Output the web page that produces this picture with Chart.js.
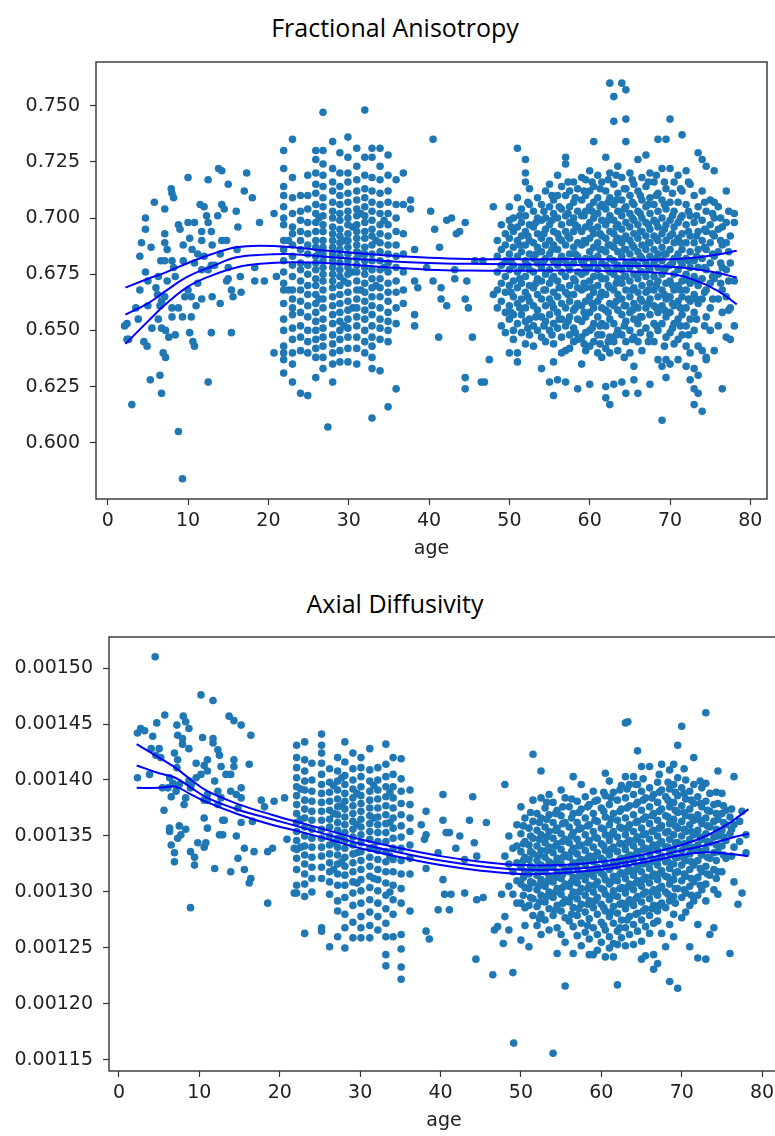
<!DOCTYPE html>
<html>
<head>
<meta charset="utf-8">
<script src="https://cdn.jsdelivr.net/npm/chart.js@4.4.1/dist/chart.umd.min.js"></script>
<style>
  html, body { margin: 0; padding: 0; background: #fff; overflow: hidden; }
  #page { position: relative; width: 775px; height: 1136px; overflow: hidden; }
  canvas { position: absolute; left: 0; }
  .titulo { position: absolute; left: 0; width: 790px; text-align: center;
            font-family: 'Open Sans', 'Noto Sans', sans-serif; font-size: 25px; color: #000;
            height: 30px; line-height: 30px; }
</style>
</head>
<body>
<div id="page">
  <div class="titulo" style="top:12px">Fractional Anisotropy</div>
  <canvas id="grafico-fa" width="790" height="580" style="top:0;width:790px;height:580px"></canvas>
  <div class="titulo" style="top:588px">Axial Diffusivity</div>
  <canvas id="grafico-ad" width="790" height="556" style="top:580px;width:790px;height:556px"></canvas>
</div>
<script>
// Cada columna: [edad, valores...]. FA en milésimas (x1000), AD en x1e-6.
const faChildren = [
  [2.1, 652], [2.4, 653, 646], [2.6, 646], [3.0, 617], [3.5, 660], [3.8, 655], [4.0, 683, 668], [4.2, 689],
  [4.5, 645], [4.7, 700, 695, 676], [4.9, 643], [5.0, 672, 661], [5.3, 628], [5.4, 687], [5.5, 651], [5.8, 707],
  [6.0, 669], [6.2, 666], [6.3, 674, 655], [6.5, 630, 661], [6.6, 681], [6.7, 663, 651, 622], [6.9, 640],
  [7.1, 704, 693, 689, 681, 665], [7.2, 638, 650], [7.4, 686, 672], [7.6, 647], [7.9, 713], [8.0, 711, 681, 660, 656],
  [8.2, 709, 678], [8.4, 674, 648], [8.8, 697, 660, 605], [9.0, 695], [9.3, 584, 656], [9.4, 681, 688], [9.6, 665],
  [10.0, 718, 698, 668], [10.2, 691, 649], [10.4, 656, 665], [10.5, 686], [10.6, 645], [10.8, 698, 680, 643],
  [11.0, 661], [11.2, 684, 671], [11.5, 706], [11.7, 690, 677, 664, 694], [12.0, 705, 683], [12.3, 701],
  [12.5, 717, 698, 627, 677], [12.9, 694, 649, 679], [13.0, 688, 665], [13.3, 679], [13.7, 701], [13.8, 722],
  [14.0, 662, 684], [14.2, 721, 706, 690], [14.5, 704], [14.8, 690, 672], [15.0, 715, 678, 673], [15.4, 649, 668],
  [15.6, 665], [16.0, 703], [16.1, 686], [16.2, 696], [16.5, 674], [16.6, 667], [17.0, 712], [17.3, 720],
  [18.0, 709], [18.3, 678, 672], [18.9, 698], [19.5, 672], [20.7, 702, 640], [21.0, 674]
];
const faYoung = [
  [21.9, 730, 722, 714, 710, 705, 700, 697, 690, 686, 681, 676, 671, 668, 662, 655, 650, 643, 640, 637, 631],
  [22.5, 690, 668],
  [23.0, 735, 718, 709, 702, 696, 693, 688, 683, 679, 674, 668, 664, 660, 657, 651, 646, 640, 635, 627],
  [24.0, 710, 703, 699, 694, 690, 686, 680, 677, 672, 668, 663, 658, 652, 647, 641, 622],
  [24.9, 719, 710, 704, 698, 693, 688, 684, 679, 675, 670, 666, 661, 656, 650, 645, 640, 621],
  [25.9, 730, 726, 720, 715, 711, 706, 702, 698, 694, 690, 687, 683, 680, 677, 673, 670, 666, 662, 658, 654, 650, 646, 642, 638, 629],
  [26.3, 700, 685, 664],
  [26.8, 747, 730, 724, 719, 714, 709, 705, 701, 697, 694, 690, 687, 684, 681, 678, 675, 672, 668, 664, 660, 655, 651, 647, 643, 638, 633],
  [27.4, 607],
  [28.0, 734, 722, 716, 712, 707, 703, 700, 696, 693, 690, 687, 684, 681, 678, 675, 672, 669, 665, 661, 657, 653, 648, 644, 640, 635, 627],
  [28.9, 729, 720, 714, 710, 706, 702, 699, 695, 692, 689, 686, 683, 680, 677, 674, 670, 666, 662, 658, 654, 650, 646, 641, 636],
  [29.4, 690, 672, 652],
  [29.9, 736, 727, 720, 716, 711, 707, 703, 700, 697, 693, 690, 687, 684, 681, 678, 675, 671, 667, 663, 659, 655, 651, 647, 642, 636],
  [30.5, 696, 676, 660],
  [31.0, 731, 723, 717, 712, 708, 704, 701, 697, 694, 691, 688, 685, 682, 679, 676, 672, 668, 664, 660, 656, 652, 647, 642, 635],
  [31.5, 702, 684, 668],
  [32.0, 748, 727, 719, 713, 709, 705, 701, 698, 694, 691, 687, 684, 681, 678, 675, 671, 667, 663, 659, 655, 650, 645, 640],
  [32.9, 731, 727, 718, 712, 707, 703, 699, 695, 692, 688, 684, 681, 677, 673, 669, 665, 661, 657, 652, 647, 643, 638, 633, 611],
  [33.4, 690, 670],
  [33.9, 731, 723, 717, 711, 706, 702, 697, 693, 689, 685, 681, 677, 673, 669, 665, 660, 655, 651, 646, 632],
  [34.4, 699, 678],
  [34.9, 728, 719, 712, 707, 702, 697, 692, 688, 684, 680, 676, 671, 667, 663, 658, 654, 650, 645, 616],
  [35.9, 717, 706, 700, 694, 688, 683, 678, 672, 667, 660, 653, 624],
  [36.8, 720, 706, 693, 684, 676, 668, 662]
];
const faMiddle = [
  [37.7, 708, 704], [38.2, 686, 672, 657, 652], [38.6, 669], [39.7, 678], [40.2, 703], [40.5, 735, 672],
  [40.7, 695], [41.2, 647], [41.3, 687], [41.5, 669, 664], [42.2, 699, 661], [42.8, 700], [43.2, 677, 673],
  [43.4, 693], [43.8, 694], [44.5, 698, 664, 629, 624], [44.7, 672], [44.9, 660], [45.4, 647], [45.7, 681],
  [46.5, 627], [46.9, 627], [46.7, 681], [47.5, 637], [48.0, 666, 705]
];
const faOlder = [
  [48.5, 690, 683, 676, 668, 660],
  [49.0, 697, 686, 679, 671, 663, 652],
  [49.5, 693, 688, 681, 674, 667, 658, 649],
  [50.0, 705, 699, 691, 684, 677, 670, 661, 655, 640],
  [50.5, 700, 694, 687, 679, 672, 665, 657, 650, 646],
  [51.0, 731, 709, 696, 690, 683, 676, 669, 662, 653, 640, 636],
  [51.5, 704, 698, 692, 685, 678, 671, 664, 657, 649],
  [52.0, 726, 720, 716, 701, 694, 688, 681, 674, 667, 660, 654, 644],
  [52.5, 713, 706, 697, 690, 684, 677, 670, 663, 655, 648],
  [53.0, 703, 696, 689, 682, 676, 669, 661, 652, 643],
  [53.5, 709, 700, 693, 687, 680, 673, 666, 659, 650],
  [54.0, 706, 699, 691, 685, 678, 672, 664, 656, 647, 633],
  [54.5, 712, 700, 695, 688, 682, 675, 668, 661, 654, 645],
  [55.0, 715, 705, 697, 690, 684, 677, 671, 664, 657, 650, 627],
  [55.5, 708, 702, 694, 688, 681, 674, 667, 660, 653, 644, 636, 621],
  [56.0, 719, 710, 700, 693, 686, 679, 672, 665, 658, 651, 628],
  [56.5, 714, 704, 697, 690, 683, 676, 669, 662, 655, 647, 640],
  [57.0, 727, 724, 710, 701, 694, 688, 681, 674, 667, 660, 652, 641, 627],
  [57.5, 712, 705, 698, 691, 684, 677, 670, 663, 656, 648, 642],
  [58.0, 716, 707, 700, 694, 687, 680, 673, 666, 659, 651, 645],
  [58.5, 713, 703, 696, 689, 683, 676, 669, 662, 655, 646, 624],
  [59.0, 718, 708, 701, 694, 688, 681, 675, 668, 661, 654, 647, 635],
  [59.5, 717, 710, 703, 696, 689, 682, 676, 669, 663, 656, 649, 641],
  [60.0, 721, 712, 705, 698, 691, 685, 678, 672, 665, 658, 650, 643, 626],
  [60.5, 734, 714, 707, 700, 693, 687, 680, 674, 667, 660, 653, 645],
  [61.0, 719, 709, 702, 696, 689, 683, 677, 670, 663, 656, 648, 640],
  [61.5, 716, 706, 699, 692, 686, 680, 673, 667, 660, 653, 648, 638],
  [62.0, 727, 712, 704, 697, 691, 685, 679, 673, 666, 659, 652, 642, 625, 620],
  [62.5, 760, 720, 709, 701, 694, 688, 682, 676, 669, 662, 655, 647, 640, 617],
  [63.0, 754, 743, 715, 706, 699, 693, 687, 681, 675, 668, 661, 653, 645, 626],
  [63.5, 723, 711, 703, 697, 691, 685, 679, 673, 666, 659, 650, 641],
  [64.0, 760, 718, 708, 701, 695, 689, 683, 677, 671, 664, 657, 648, 627],
  [64.5, 757, 744, 734, 713, 705, 698, 692, 686, 680, 674, 668, 661, 654, 645, 622],
  [65.0, 720, 710, 702, 696, 690, 684, 678, 672, 665, 658, 650, 640],
  [65.5, 715, 706, 699, 693, 687, 681, 675, 669, 662, 655, 647, 634, 628],
  [66.0, 726, 712, 703, 697, 691, 685, 679, 673, 667, 660, 653, 645, 622],
  [66.5, 718, 708, 700, 694, 688, 682, 676, 670, 663, 656, 641],
  [67.0, 728, 714, 705, 698, 692, 686, 680, 674, 667, 660, 651],
  [67.5, 720, 709, 702, 695, 689, 683, 677, 671, 664, 657, 648, 626],
  [68.0, 716, 706, 699, 692, 686, 680, 674, 668, 661, 653, 645],
  [68.5, 735, 711, 703, 696, 690, 684, 678, 672, 665, 658, 650, 637],
  [69.0, 722, 708, 700, 693, 687, 681, 675, 668, 661, 653, 634, 610],
  [69.5, 735, 713, 704, 697, 690, 684, 678, 671, 664, 656, 647, 637, 629],
  [70.0, 744, 722, 707, 699, 692, 686, 679, 672, 665, 658, 649, 635],
  [70.5, 716, 703, 696, 689, 682, 675, 668, 661, 653, 644],
  [71.0, 719, 707, 698, 691, 684, 677, 670, 663, 655, 646, 637],
  [71.5, 737, 712, 701, 693, 686, 679, 672, 665, 657, 648],
  [72.0, 721, 706, 697, 689, 682, 675, 668, 660, 652, 643, 634],
  [72.5, 715, 701, 692, 685, 678, 671, 663, 655, 640, 628],
  [73.0, 710, 698, 689, 681, 674, 666, 658, 650, 633, 624, 617],
  [73.5, 729, 705, 694, 686, 678, 670, 662, 643, 630, 622],
  [74.0, 726, 712, 699, 690, 682, 673, 664, 641, 614],
  [74.5, 723, 703, 694, 686, 677, 668, 656, 637, 638],
  [75.0, 708, 697, 689, 680, 671, 660, 650],
  [75.5, 721, 707, 700, 692, 683, 673, 641],
  [76.0, 705, 695, 685, 675, 664, 652],
  [76.5, 696, 688, 678, 668, 658, 624],
  [77.0, 712, 698, 689, 677, 665, 647],
  [77.5, 692, 680, 660, 646],
  [78.0, 702, 698, 672, 652],
  [50.2, 696, 681, 667, 658], [51.3, 701, 688, 673, 660], [52.3, 707, 692, 679, 665, 651],
  [53.3, 698, 684, 671, 656], [54.3, 703, 693, 681, 668, 652], [55.3, 710, 699, 686, 673, 662, 648],
  [56.2, 705, 691, 681, 669, 655], [57.3, 716, 702, 692, 679, 666, 654], [58.2, 709, 697, 684, 672, 660, 649],
  [59.3, 712, 701, 690, 679, 671, 658, 644], [60.3, 716, 703, 695, 682, 669, 662, 651],
  [61.3, 713, 705, 693, 686, 674, 665, 652, 644], [62.3, 717, 707, 699, 688, 677, 670, 658, 645],
  [63.3, 719, 708, 696, 690, 678, 671, 663, 648], [64.3, 713, 704, 691, 686, 674, 661, 652, 638],
  [65.3, 717, 707, 700, 688, 680, 668, 659, 646], [66.3, 710, 702, 694, 683, 676, 664, 656, 649],
  [67.3, 716, 706, 697, 689, 678, 668, 662, 645], [68.3, 719, 710, 698, 691, 682, 670, 660, 652],
  [69.3, 716, 706, 695, 684, 677, 666, 659, 643], [70.3, 711, 701, 693, 680, 670, 662, 651],
  [71.3, 713, 700, 689, 681, 668, 660, 652], [72.3, 716, 703, 694, 681, 672, 664, 648],
  [73.3, 701, 692, 683, 672, 664, 655], [74.3, 707, 695, 687, 678, 667, 652], [75.3, 702, 693, 684, 674, 664],
  [76.3, 700, 690, 680, 671], [77.3, 703, 685, 672, 659]
];

const adChildren = [
  [2.3, 1442, 1402], [2.7, 1446], [3.2, 1444], [3.8, 1405], [4.0, 1428], [4.2, 1439], [4.5, 1510], [4.6, 1422],
  [4.7, 1451], [5.0, 1428], [5.2, 1420], [5.4, 1393], [5.6, 1373], [5.7, 1458], [6.1, 1393], [6.3, 1402, 1357, 1354],
  [6.5, 1385, 1342], [6.7, 1397], [6.9, 1424, 1335, 1327], [7.1, 1390], [7.2, 1449, 1411], [7.3, 1440, 1418, 1348],
  [7.5, 1396, 1359], [7.7, 1351], [7.9, 1432, 1437], [8.0, 1457], [8.1, 1378], [8.3, 1452, 1384, 1356],
  [8.7, 1446, 1428, 1399], [8.9, 1393, 1336, 1286], [9.0, 1396], [9.4, 1331, 1324], [9.6, 1415, 1402], [9.8, 1344],
  [10.2, 1476, 1405], [10.4, 1438], [10.6, 1413, 1382, 1366, 1340], [10.8, 1344], [11.0, 1418, 1408, 1387, 1382, 1357],
  [11.7, 1471, 1437, 1433], [11.9, 1399, 1321], [12.3, 1427, 1390, 1378], [12.5, 1422, 1351], [12.7, 1412, 1384],
  [12.9, 1364, 1351], [13.1, 1364], [13.3, 1405], [13.7, 1457], [13.9, 1405, 1390, 1318], [14.3, 1453, 1418, 1412],
  [14.6, 1387, 1350], [14.8, 1375, 1330], [15.2, 1449, 1393, 1384, 1362], [15.6, 1339, 1320], [16.2, 1414, 1308],
  [16.4, 1440, 1312], [16.6, 1363], [16.8, 1336], [17.7, 1382], [18.1, 1376], [18.5, 1336, 1290], [19.1, 1339],
  [19.3, 1381], [20.6, 1384], [20.9, 1347], [21.8, 1339, 1299]
];
const adYoung = [
  [22.1, 1431, 1420, 1411, 1402, 1394, 1386, 1378, 1370, 1362, 1354, 1346, 1338, 1330, 1320, 1306, 1299],
  [22.6, 1392, 1365, 1340],
  [23.1, 1434, 1418, 1408, 1399, 1391, 1382, 1374, 1366, 1358, 1350, 1341, 1333, 1325, 1316, 1307, 1296, 1263],
  [24.0, 1415, 1400, 1390, 1381, 1372, 1364, 1356, 1348, 1340, 1331, 1322, 1312, 1300],
  [25.2, 1441, 1431, 1424, 1415, 1405, 1396, 1388, 1380, 1372, 1364, 1356, 1348, 1340, 1332, 1322, 1312, 1268, 1265],
  [26.2, 1410, 1398, 1389, 1381, 1373, 1365, 1358, 1350, 1342, 1334, 1326, 1318, 1309, 1298, 1251],
  [26.7, 1395, 1370, 1344, 1320],
  [27.2, 1420, 1408, 1399, 1391, 1383, 1376, 1369, 1362, 1355, 1348, 1340, 1333, 1325, 1316, 1306, 1292, 1283, 1260],
  [27.7, 1402, 1377, 1350, 1327],
  [28.1, 1434, 1416, 1404, 1396, 1388, 1381, 1374, 1367, 1360, 1353, 1346, 1339, 1331, 1323, 1315, 1306, 1295, 1280, 1268, 1250],
  [29.1, 1424, 1410, 1400, 1392, 1384, 1377, 1370, 1363, 1356, 1349, 1342, 1334, 1326, 1318, 1309, 1299, 1288, 1273, 1259],
  [29.6, 1388, 1360, 1335, 1308],
  [30.1, 1420, 1411, 1403, 1394, 1386, 1379, 1372, 1365, 1358, 1351, 1344, 1336, 1328, 1320, 1311, 1301, 1290, 1278, 1268, 1259],
  [31.2, 1428, 1409, 1399, 1390, 1382, 1375, 1368, 1361, 1354, 1347, 1339, 1331, 1323, 1314, 1304, 1293, 1282, 1270, 1259],
  [31.7, 1395, 1366, 1340, 1312],
  [32.2, 1411, 1400, 1391, 1383, 1375, 1367, 1360, 1353, 1345, 1337, 1329, 1320, 1311, 1301, 1290, 1278, 1266],
  [33.2, 1432, 1414, 1403, 1394, 1385, 1377, 1369, 1361, 1353, 1345, 1336, 1327, 1318, 1308, 1297, 1285, 1272, 1260, 1244, 1234],
  [33.7, 1389, 1362, 1332, 1300],
  [34.1, 1420, 1405, 1394, 1384, 1375, 1366, 1357, 1348, 1339, 1329, 1318, 1306, 1293, 1280, 1260],
  [35.1, 1419, 1401, 1390, 1379, 1369, 1359, 1349, 1339, 1328, 1316, 1303, 1290, 1262, 1249, 1233, 1222],
  [36.2, 1391, 1378, 1366, 1354, 1342, 1330, 1316, 1283]
];
const adMiddle = [
  [37.6, 1360], [38.0, 1347], [38.2, 1372, 1351, 1321, 1265], [38.6, 1258], [39.7, 1335, 1284],
  [40.3, 1387, 1364, 1311], [40.5, 1298], [40.7, 1353], [41.1, 1353, 1284], [41.3, 1298], [41.9, 1339],
  [42.4, 1350], [43.0, 1299, 1329], [43.6, 1364], [44.0, 1385], [44.2, 1344], [44.4, 1240], [44.5, 1332, 1293],
  [45.3, 1295], [45.7, 1362], [46.5, 1226], [46.7, 1266], [47.1, 1269], [47.6, 1298], [47.8, 1254]
];
const adOlder = [
  [48.0, 1396, 1332, 1278], [48.5, 1350, 1325, 1305, 1266], [49.0, 1339, 1318, 1298, 1228], [49.1, 1165],
  [49.5, 1360, 1341, 1326, 1310, 1290],
  [50.0, 1376, 1352, 1336, 1322, 1307, 1290, 1257],
  [50.5, 1366, 1345, 1331, 1318, 1304, 1286, 1270],
  [51.0, 1357, 1342, 1329, 1316, 1303, 1288, 1251],
  [51.5, 1423, 1382, 1363, 1348, 1334, 1321, 1308, 1294, 1279],
  [52.0, 1370, 1355, 1341, 1328, 1315, 1302, 1287, 1270],
  [52.5, 1408, 1384, 1366, 1351, 1337, 1324, 1311, 1297, 1280, 1262],
  [53.0, 1375, 1358, 1344, 1331, 1318, 1305, 1291, 1275],
  [53.5, 1387, 1369, 1354, 1340, 1327, 1314, 1300, 1285, 1266],
  [54.0, 1380, 1362, 1348, 1335, 1322, 1309, 1295, 1279, 1156],
  [54.5, 1373, 1357, 1343, 1330, 1317, 1303, 1288, 1268, 1245],
  [55.0, 1391, 1368, 1352, 1338, 1325, 1312, 1298, 1283, 1262],
  [55.5, 1384, 1362, 1347, 1333, 1320, 1307, 1293, 1277, 1255, 1216],
  [56.0, 1376, 1358, 1344, 1331, 1318, 1305, 1291, 1274],
  [56.5, 1403, 1370, 1353, 1339, 1326, 1313, 1300, 1286, 1269, 1245],
  [57.0, 1381, 1362, 1347, 1334, 1321, 1308, 1294, 1279, 1261],
  [57.5, 1396, 1374, 1357, 1342, 1329, 1316, 1303, 1289, 1272, 1252],
  [58.0, 1385, 1366, 1351, 1337, 1324, 1311, 1297, 1282, 1264],
  [58.5, 1378, 1360, 1346, 1332, 1319, 1306, 1292, 1276, 1258, 1244],
  [59.0, 1390, 1370, 1354, 1340, 1327, 1314, 1300, 1286, 1268, 1244],
  [59.5, 1382, 1363, 1348, 1335, 1322, 1309, 1295, 1280, 1262, 1248],
  [60.0, 1375, 1357, 1343, 1330, 1317, 1303, 1289, 1273, 1255],
  [60.5, 1406, 1386, 1367, 1351, 1337, 1324, 1311, 1298, 1283, 1266, 1242],
  [61.0, 1399, 1378, 1360, 1346, 1333, 1320, 1307, 1293, 1278, 1260, 1250],
  [61.5, 1389, 1370, 1354, 1340, 1327, 1314, 1301, 1287, 1272, 1254, 1242],
  [62.0, 1382, 1364, 1349, 1336, 1323, 1310, 1296, 1281, 1265, 1253, 1217],
  [62.5, 1395, 1374, 1357, 1343, 1330, 1317, 1304, 1290, 1275, 1259],
  [63.0, 1451, 1403, 1384, 1366, 1351, 1338, 1325, 1312, 1299, 1285, 1268, 1252],
  [63.3, 1452],
  [63.5, 1396, 1377, 1360, 1346, 1333, 1320, 1307, 1293, 1278, 1262],
  [64.0, 1403, 1387, 1369, 1354, 1341, 1328, 1315, 1302, 1288, 1271, 1253],
  [64.5, 1426, 1396, 1380, 1363, 1349, 1336, 1323, 1310, 1296, 1281, 1265],
  [65.0, 1412, 1390, 1373, 1357, 1344, 1331, 1318, 1305, 1291, 1275, 1256, 1240],
  [65.5, 1384, 1367, 1352, 1339, 1326, 1313, 1300, 1285, 1269, 1243],
  [66.0, 1412, 1393, 1376, 1361, 1347, 1334, 1321, 1308, 1294, 1279, 1263],
  [66.5, 1387, 1370, 1355, 1342, 1329, 1316, 1302, 1288, 1272, 1244, 1231],
  [67.0, 1398, 1380, 1364, 1350, 1337, 1324, 1311, 1297, 1283, 1274, 1236],
  [67.5, 1414, 1391, 1374, 1359, 1345, 1332, 1319, 1305, 1290, 1263],
  [68.0, 1385, 1368, 1353, 1340, 1327, 1314, 1300, 1286, 1251],
  [68.5, 1409, 1392, 1376, 1361, 1347, 1334, 1321, 1307, 1292, 1271, 1220],
  [69.0, 1414, 1396, 1380, 1365, 1351, 1338, 1325, 1311, 1296, 1280, 1260],
  [69.5, 1431, 1402, 1386, 1371, 1357, 1344, 1331, 1318, 1303, 1214],
  [70.0, 1448, 1393, 1377, 1363, 1350, 1337, 1324, 1310, 1295, 1277],
  [70.5, 1400, 1383, 1368, 1354, 1341, 1328, 1314, 1299, 1282],
  [71.0, 1390, 1374, 1360, 1347, 1334, 1320, 1305, 1288, 1251],
  [71.5, 1420, 1396, 1379, 1364, 1351, 1338, 1324, 1309, 1292],
  [72.0, 1385, 1369, 1355, 1342, 1328, 1313, 1297, 1271, 1241],
  [72.5, 1393, 1376, 1361, 1347, 1333, 1318, 1302],
  [73.0, 1460, 1397, 1381, 1366, 1352, 1338, 1323, 1307, 1292, 1240],
  [73.5, 1388, 1372, 1358, 1344, 1330, 1315, 1262],
  [74.0, 1378, 1363, 1349, 1335, 1320, 1302, 1268],
  [74.5, 1408, 1379, 1365, 1350, 1336, 1318, 1298],
  [75.0, 1388, 1370, 1355, 1341, 1318],
  [75.5, 1373, 1360, 1346, 1330],
  [76.0, 1367, 1352, 1245],
  [76.5, 1403, 1360, 1340, 1309],
  [77.0, 1289],
  [77.5, 1372, 1299],
  [78.0, 1351, 1335],
  [50.3, 1359, 1343, 1328, 1313, 1297], [51.2, 1371, 1350, 1336, 1323, 1309, 1295],
  [52.3, 1362, 1347, 1333, 1320, 1306, 1291, 1276], [53.2, 1380, 1365, 1349, 1337, 1322, 1309, 1296],
  [54.3, 1370, 1355, 1341, 1326, 1313, 1300, 1284], [55.2, 1376, 1361, 1345, 1331, 1316, 1304, 1290],
  [56.3, 1383, 1366, 1350, 1336, 1323, 1309, 1296, 1280], [57.2, 1371, 1356, 1341, 1327, 1314, 1300, 1285],
  [58.3, 1376, 1359, 1344, 1330, 1316, 1303, 1289, 1270], [59.2, 1381, 1364, 1349, 1332, 1319, 1306, 1292],
  [60.3, 1389, 1372, 1356, 1341, 1328, 1315, 1302, 1286, 1270], [61.2, 1384, 1365, 1351, 1338, 1322, 1309, 1296, 1282],
  [62.3, 1391, 1372, 1358, 1343, 1329, 1316, 1303, 1289, 1268], [63.2, 1392, 1375, 1357, 1344, 1331, 1318, 1304, 1290, 1275],
  [64.3, 1396, 1378, 1362, 1347, 1334, 1320, 1308, 1294, 1280], [65.2, 1401, 1382, 1365, 1351, 1338, 1325, 1311, 1298, 1283],
  [66.3, 1384, 1368, 1354, 1340, 1327, 1314, 1300, 1285], [67.2, 1405, 1389, 1372, 1357, 1343, 1330, 1316, 1303, 1288],
  [68.3, 1398, 1382, 1367, 1354, 1340, 1327, 1313, 1298], [69.2, 1389, 1373, 1359, 1344, 1331, 1317, 1303, 1290],
  [70.3, 1410, 1388, 1371, 1356, 1343, 1330, 1316, 1302], [71.2, 1382, 1367, 1354, 1340, 1327, 1312, 1297],
  [72.3, 1399, 1379, 1364, 1349, 1336, 1321, 1306], [73.2, 1373, 1359, 1345, 1331, 1316],
  [74.3, 1389, 1370, 1356, 1342, 1328, 1312], [75.2, 1377, 1362, 1349, 1333], [76.2, 1374, 1356, 1332],
  [77.2, 1363, 1345]
];

// Ajuste y bandas de confianza
const faFitAge   = [2.2, 5, 7, 10, 13, 16, 19, 23, 27, 30, 35, 40, 45, 50, 55, 60, 65, 70, 73, 76, 78.3];
const faFitUpper = [669, 673, 675.5, 680, 684, 687, 687.7, 687, 685.5, 684.7, 683.3, 682.3, 681.8, 681.7, 681.7, 681.7, 681.5, 681.6, 682.3, 683.8, 685.4];
const faFitMid   = [657, 662, 667, 674, 678.5, 682.5, 683.6, 683.9, 682.8, 682, 680.8, 680, 679.6, 679.4, 679.2, 679, 678.7, 678.3, 677.3, 675.5, 673.5];
const faFitLower = [644, 654, 661, 669.5, 674.5, 678, 679.6, 680.3, 680, 679.3, 678, 677, 676.6, 676.5, 676.6, 676.7, 676.2, 675.2, 672.5, 667.5, 661.6];

const adFitAge   = [2.2, 5, 7, 9, 11, 15, 19, 23, 27, 30, 35, 40, 45, 50, 55, 60, 65, 70, 73, 76, 78.3];
const adFitUpper = [1432, 1420, 1411, 1400, 1390, 1378, 1369, 1361, 1353, 1347, 1339, 1332, 1327, 1324, 1324, 1327, 1333, 1342, 1350, 1362, 1374];
const adFitMid   = [1413, 1406, 1402, 1393, 1384, 1373, 1365, 1357, 1349, 1343, 1335, 1328, 1323, 1320, 1320, 1323, 1329, 1337, 1342, 1348, 1352];
const adFitLower = [1393, 1393, 1394, 1387, 1380, 1369, 1360, 1353, 1345, 1339, 1331, 1324, 1319, 1316, 1317, 1320, 1326, 1333, 1335.5, 1334, 1332];

const faTicks = [0.600, 0.625, 0.650, 0.675, 0.700, 0.725, 0.750];
const adTicks = [0.00115, 0.00120, 0.00125, 0.00130, 0.00135, 0.00140, 0.00145, 0.00150];
const ageTicks = [0, 10, 20, 30, 40, 50, 60, 70, 80];

document.addEventListener('DOMContentLoaded', function() {
    const fuenteTicks = { family: "'DejaVu Sans', sans-serif", size: 19 };

    // marco completo alrededor del área del gráfico
    const marco = {
        id: 'marco',
        afterDatasetsDraw(chart) {
            const { ctx, chartArea: a } = chart;
            ctx.save();
            ctx.strokeStyle = '#333';
            ctx.lineWidth = 1.4;
            ctx.strokeRect(a.left, a.top, a.right - a.left, a.bottom - a.top);
            ctx.restore();
        }
    };

    function puntos(columnas, escala) {
        const out = [];
        columnas.forEach(col => {
            for (let i = 1; i < col.length; i++) out.push({ x: col[0], y: col[i] / escala });
        });
        return out;
    }

    function curva(edades, valores, escala) {
        return edades.map((e, i) => ({ x: e, y: valores[i] / escala }));
    }

    function lineaAjuste(data) {
        return {
            type: 'line',
            data: data,
            borderColor: '#0000ff',
            borderWidth: 2,
            pointRadius: 0,
            fill: false,
            tension: 0.4,
            order: 0
        };
    }

    function crearGrafico(id, cfg) {
        const ctx = document.getElementById(id).getContext('2d');
        new Chart(ctx, {
            type: 'scatter',
            data: {
                datasets: [
                    lineaAjuste(cfg.upper),
                    lineaAjuste(cfg.mid),
                    lineaAjuste(cfg.lower),
                    {
                        data: cfg.points,
                        backgroundColor: '#1f77b4',
                        borderWidth: 0,
                        pointRadius: 3.8,
                        order: 1
                    }
                ]
            },
            options: {
                responsive: false,
                animation: false,
                events: [],
                layout: { padding: cfg.padding },
                plugins: { legend: { display: false }, tooltip: { enabled: false } },
                scales: {
                    x: {
                        type: 'linear',
                        min: cfg.xMin,
                        max: cfg.xMax,
                        afterFit: s => { s.height = cfg.xHeight; },
                        afterBuildTicks: s => { s.ticks = ageTicks.map(v => ({ value: v })); },
                        ticks: { color: '#222', font: fuenteTicks, padding: 5, maxRotation: 0 },
                        grid: { drawOnChartArea: false, drawTicks: true, tickLength: 6, tickColor: '#333', tickWidth: 1.2 },
                        border: { display: false },
                        title: { display: true, text: 'age', color: '#222', font: fuenteTicks, padding: { top: 0, bottom: cfg.ageGap } }
                    },
                    y: {
                        type: 'linear',
                        min: cfg.yMin,
                        max: cfg.yMax,
                        afterFit: s => { s.width = cfg.yWidth; },
                        afterBuildTicks: s => { s.ticks = cfg.yTicks.map(v => ({ value: v })); },
                        ticks: {
                            color: '#222',
                            font: fuenteTicks,
                            padding: 10,
                            callback: v => v.toFixed(cfg.decimales)
                        },
                        grid: { drawOnChartArea: false, drawTicks: true, tickLength: 6, tickColor: '#333', tickWidth: 1.2 },
                        border: { display: false }
                    }
                }
            },
            plugins: [marco]
        });
    }

    crearGrafico('grafico-fa', {
        points: puntos([].concat(faChildren, faYoung, faMiddle, faOlder), 1000),
        upper: curva(faFitAge, faFitUpper, 1000),
        mid: curva(faFitAge, faFitMid, 1000),
        lower: curva(faFitAge, faFitLower, 1000),
        xMin: -1.46, xMax: 82.07,
        yMin: 0.5750, yMax: 0.7694,
        yTicks: faTicks, decimales: 3,
        padding: { top: 62, right: 23, bottom: 0, left: 0 },
        yWidth: 96, xHeight: 81, ageGap: 20
    });

    crearGrafico('grafico-ad', {
        points: puntos([].concat(adChildren, adYoung, adMiddle, adOlder), 1e6),
        upper: curva(adFitAge, adFitUpper, 1e6),
        mid: curva(adFitAge, adFitMid, 1e6),
        lower: curva(adFitAge, adFitLower, 1e6),
        xMin: -1.24, xMax: 82.1,
        yMin: 0.0011401, yMax: 0.0015277,
        yTicks: adTicks, decimales: 5,
        padding: { top: 57, right: 11, bottom: 0, left: 0 },
        yWidth: 109, xHeight: 65, ageGap: 4
    });
});
</script>
</body>
</html>
